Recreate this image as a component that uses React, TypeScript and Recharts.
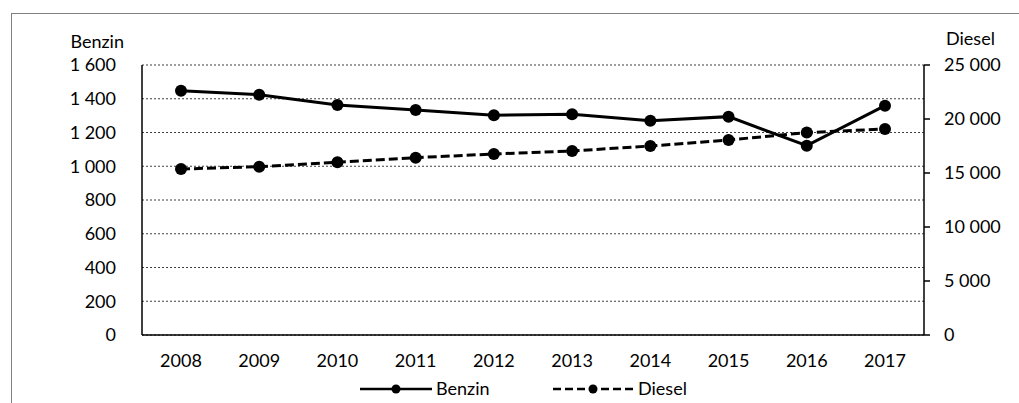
import React from "react";
import {
  LineChart,
  Line,
  XAxis,
  YAxis,
  CartesianGrid,
  Legend,
} from "recharts";

const years = ["2008", "2009", "2010", "2011", "2012", "2013", "2014", "2015", "2016", "2017"];
const benzin = [1448, 1424, 1363, 1333, 1302, 1308, 1270, 1294, 1122, 1359];
const diesel = [15370, 15580, 15990, 16420, 16760, 17040, 17500, 18060, 18740, 19080];
const benzinTicks = [0, 200, 400, 600, 800, 1000, 1200, 1400, 1600];
const dieselTicks = [0, 5000, 10000, 15000, 20000, 25000];

const data = years.map((year, i) => ({ year, benzin: benzin[i], diesel: diesel[i] }));

const FONT = "Lato, 'Open Sans', sans-serif";

// thousands separated by a space, like "1 600"
const fmtSpace = (v: number) => String(v).replace(/\B(?=(\d{3})+(?!\d))/g, " ");

function LegendContent() {
  return (
    <svg width={1019} height={24} style={{ display: "block" }}>
      <line x1={360} x2={432} y1={12} y2={12} stroke="#000" strokeWidth={2.5} />
      <circle cx={396} cy={12} r={4.5} fill="#000" />
      <text x={436} y={12} dy="0.35em" fontSize={18} fontFamily={FONT} fill="#000">
        Benzin
      </text>
      <line
        x1={553}
        x2={633}
        y1={12}
        y2={12}
        stroke="#000"
        strokeWidth={2.5}
        strokeDasharray="8 4"
      />
      <circle cx={593} cy={12} r={4.5} fill="#000" />
      <text x={638} y={12} dy="0.35em" fontSize={18} fontFamily={FONT} fill="#000">
        Diesel
      </text>
    </svg>
  );
}

export default function App() {
  return (
    <div style={{ position: "absolute", left: 0, top: 0, width: 1019, height: 403, overflow: "hidden", background: "#fff" }}>
      <div
        style={{
          position: "absolute",
          left: 11,
          top: 13,
          width: 1100,
          height: 500,
          borderTop: "1px solid #808080",
          borderLeft: "1px solid #808080",
        }}
      />
      <div style={{ position: "absolute", left: 0, top: 0 }}>
        <LineChart
          width={1019}
          height={403}
          data={data}
          margin={{ top: 65, right: 15, bottom: 38, left: 42 }}
        >
          <CartesianGrid
            yAxisId="left"
            vertical={false}
            stroke="#404040"
            strokeDasharray="2 2"
          />
          <XAxis
            dataKey="year"
            height={30}
            padding={{ left: 39, right: 39 }}
            tickLine={false}
            tickSize={6}
            tickMargin={13}
            axisLine={{ stroke: "#000", strokeWidth: 1.5 }}
            tick={{ fontSize: 18, fontFamily: FONT, fill: "#000" }}
          />
          <YAxis
            yAxisId="left"
            width={100}
            domain={[0, 1600]}
            ticks={benzinTicks}
            interval={0}
            tickFormatter={fmtSpace}
            tickLine={false}
            tickSize={6}
            tickMargin={20}
            axisLine={{ stroke: "#000", strokeWidth: 1.5 }}
            tick={{ fontSize: 18, fontFamily: FONT, fill: "#000" }}
            label={({ viewBox }: any) => (
              <text
                x={viewBox.x + viewBox.width - 18}
                y={viewBox.y - 23}
                textAnchor="end"
                dy="0.35em"
                fontSize={18}
                fontFamily={FONT}
                fill="#000"
              >
                Benzin
              </text>
            )}
          />
          <YAxis
            yAxisId="right"
            orientation="right"
            width={80}
            domain={[0, 25000]}
            ticks={dieselTicks}
            interval={0}
            tickFormatter={fmtSpace}
            tickLine={{ stroke: "#000", strokeWidth: 1.5 }}
            tickSize={6}
            tickMargin={14}
            axisLine={{ stroke: "#000", strokeWidth: 1.5 }}
            tick={{ fontSize: 18, fontFamily: FONT, fill: "#000" }}
            label={({ viewBox }: any) => (
              <text
                x={viewBox.x + 22}
                y={viewBox.y - 26}
                textAnchor="start"
                dy="0.35em"
                fontSize={18}
                fontFamily={FONT}
                fill="#000"
              >
                Diesel
              </text>
            )}
          />
          <Legend
            layout="horizontal"
            verticalAlign="middle"
            align="center"
            wrapperStyle={{ left: 0, top: 377, width: 1019 }}
            content={() => <LegendContent />}
          />
          <Line
            yAxisId="left"
            dataKey="benzin"
            name="Benzin"
            type="linear"
            stroke="#000"
            strokeWidth={3}
            dot={{ r: 6, fill: "#000", stroke: "#000", strokeWidth: 0 }}
            activeDot={false}
            isAnimationActive={false}
          />
          <Line
            yAxisId="right"
            dataKey="diesel"
            name="Diesel"
            type="linear"
            stroke="#000"
            strokeWidth={3}
            strokeDasharray="9 4"
            dot={{ r: 6, fill: "#000", stroke: "#000", strokeWidth: 0, strokeDasharray: "0" }}
            activeDot={false}
            isAnimationActive={false}
          />
        </LineChart>
      </div>
    </div>
  );
}
